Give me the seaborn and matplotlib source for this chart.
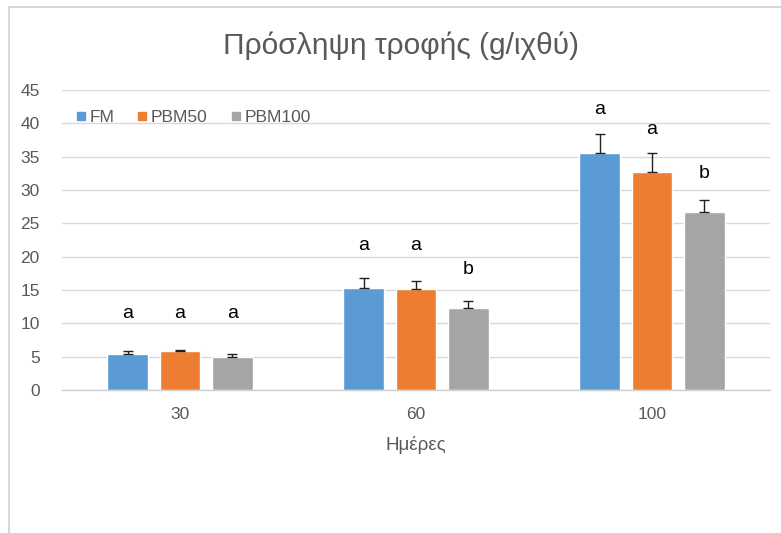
import numpy as np
import pandas as pd
import matplotlib
matplotlib.use("Agg")
import matplotlib.pyplot as plt
from matplotlib.lines import Line2D
from matplotlib.patches import Rectangle
import seaborn as sns

# Feed intake per fish by sampling day and diet
days = ["30", "60", "100"]
diets = ["FM", "PBM50", "PBM100"]
fm = [5.4, 15.35, 35.5]
pbm50 = [5.8, 15.15, 32.65]
pbm100 = [5.0, 12.25, 26.75]
fm_err = [0.5, 1.5, 2.9]
pbm50_err = [0.2, 1.2, 2.85]
pbm100_err = [0.4, 1.15, 1.7]
fm_letters = ["a", "a", "a"]
pbm50_letters = ["a", "a", "a"]
pbm100_letters = ["a", "b", "b"]
# vertical position of the significance letters (data units)
fm_letter_y = [11.5, 21.6, 42.0]
pbm50_letter_y = [11.5, 21.6, 39.0]
pbm100_letter_y = [11.5, 18.0, 32.4]

colors = ["#5B9BD5", "#ED7D31", "#A5A5A5"]
text_grey = "#595959"

df = pd.DataFrame({
    "day": days * 3,
    "diet": [d for d in diets for _ in days],
    "value": fm + pbm50 + pbm100,
})
errs = fm_err + pbm50_err + pbm100_err
letters = fm_letters + pbm50_letters + pbm100_letters
letter_y = fm_letter_y + pbm50_letter_y + pbm100_letter_y

sns.set_theme(style="white")
plt.rcParams["font.family"] = ["Liberation Sans", "DejaVu Sans"]

fig = plt.figure(figsize=(7.81, 5.33), dpi=100)
fig.patches.append(Rectangle((9 / 781, -0.1), 1.2, (533 - 7) / 533 + 0.1,
                             transform=fig.transFigure, fill=False,
                             edgecolor="#d0d0d0", linewidth=1.2, zorder=0))
ax = fig.add_axes([62 / 781, (533 - 390) / 533, 708 / 781, 300 / 533])

sns.barplot(data=df, x="day", y="value", hue="diet", order=days,
            hue_order=diets, palette=colors, errorbar=None,
            width=0.667, gap=0.22, saturation=1, legend=False, ax=ax,
            zorder=2)

# Bars are emitted per hue level in order, each covering the days in order
bars = [p for p in ax.patches if p.get_height() > 0]
for bar, e, lt, ly in zip(bars, errs, letters, letter_y):
    xc = bar.get_x() + bar.get_width() / 2
    h = bar.get_height()
    ax.errorbar(xc, h, yerr=[[0], [e]], fmt="none", ecolor="#222222",
                elinewidth=1.0, capsize=3.8, capthick=1.0, zorder=3)
    ax.text(xc, ly, lt, ha="center", va="center", fontsize=14,
            color="black")

ax.set_ylim(0, 45)
ax.set_xlim(-0.5, 2.5)
ax.set_yticks(np.arange(0, 46, 5))
ax.grid(axis="y", color="#d9d9d9", linewidth=1.0, zorder=0)
ax.set_axisbelow(True)
for s in ["left", "right", "top"]:
    ax.spines[s].set_visible(False)
ax.spines["bottom"].set_color("#d0d0d0")
ax.spines["bottom"].set_linewidth(1.0)
ax.tick_params(axis="both", length=0, labelsize=12.5, colors=text_grey)
ax.tick_params(axis="y", pad=16)
ax.tick_params(axis="x", pad=12)
ax.set_xlabel("Ημέρες", fontsize=13.5, color=text_grey, labelpad=10)
ax.set_ylabel("")

fig.text(0.513, 0.915, "Πρόσληψη τροφής (g/ιχθύ)", ha="center", va="center",
         fontsize=21.5, color=text_grey)

handles = [Line2D([], [], marker="s", linestyle="none", markersize=6,
                  markerfacecolor=c, markeredgecolor=c) for c in colors]
leg = ax.legend(handles, diets, loc="upper left", bbox_to_anchor=(0.0, 0.975),
                ncol=3, frameon=False, fontsize=12.5, handletextpad=0.1,
                columnspacing=1.2, handlelength=0.8, borderaxespad=0.3)
for t in leg.get_texts():
    t.set_color(text_grey)

fig.savefig("out.png", dpi=100)
